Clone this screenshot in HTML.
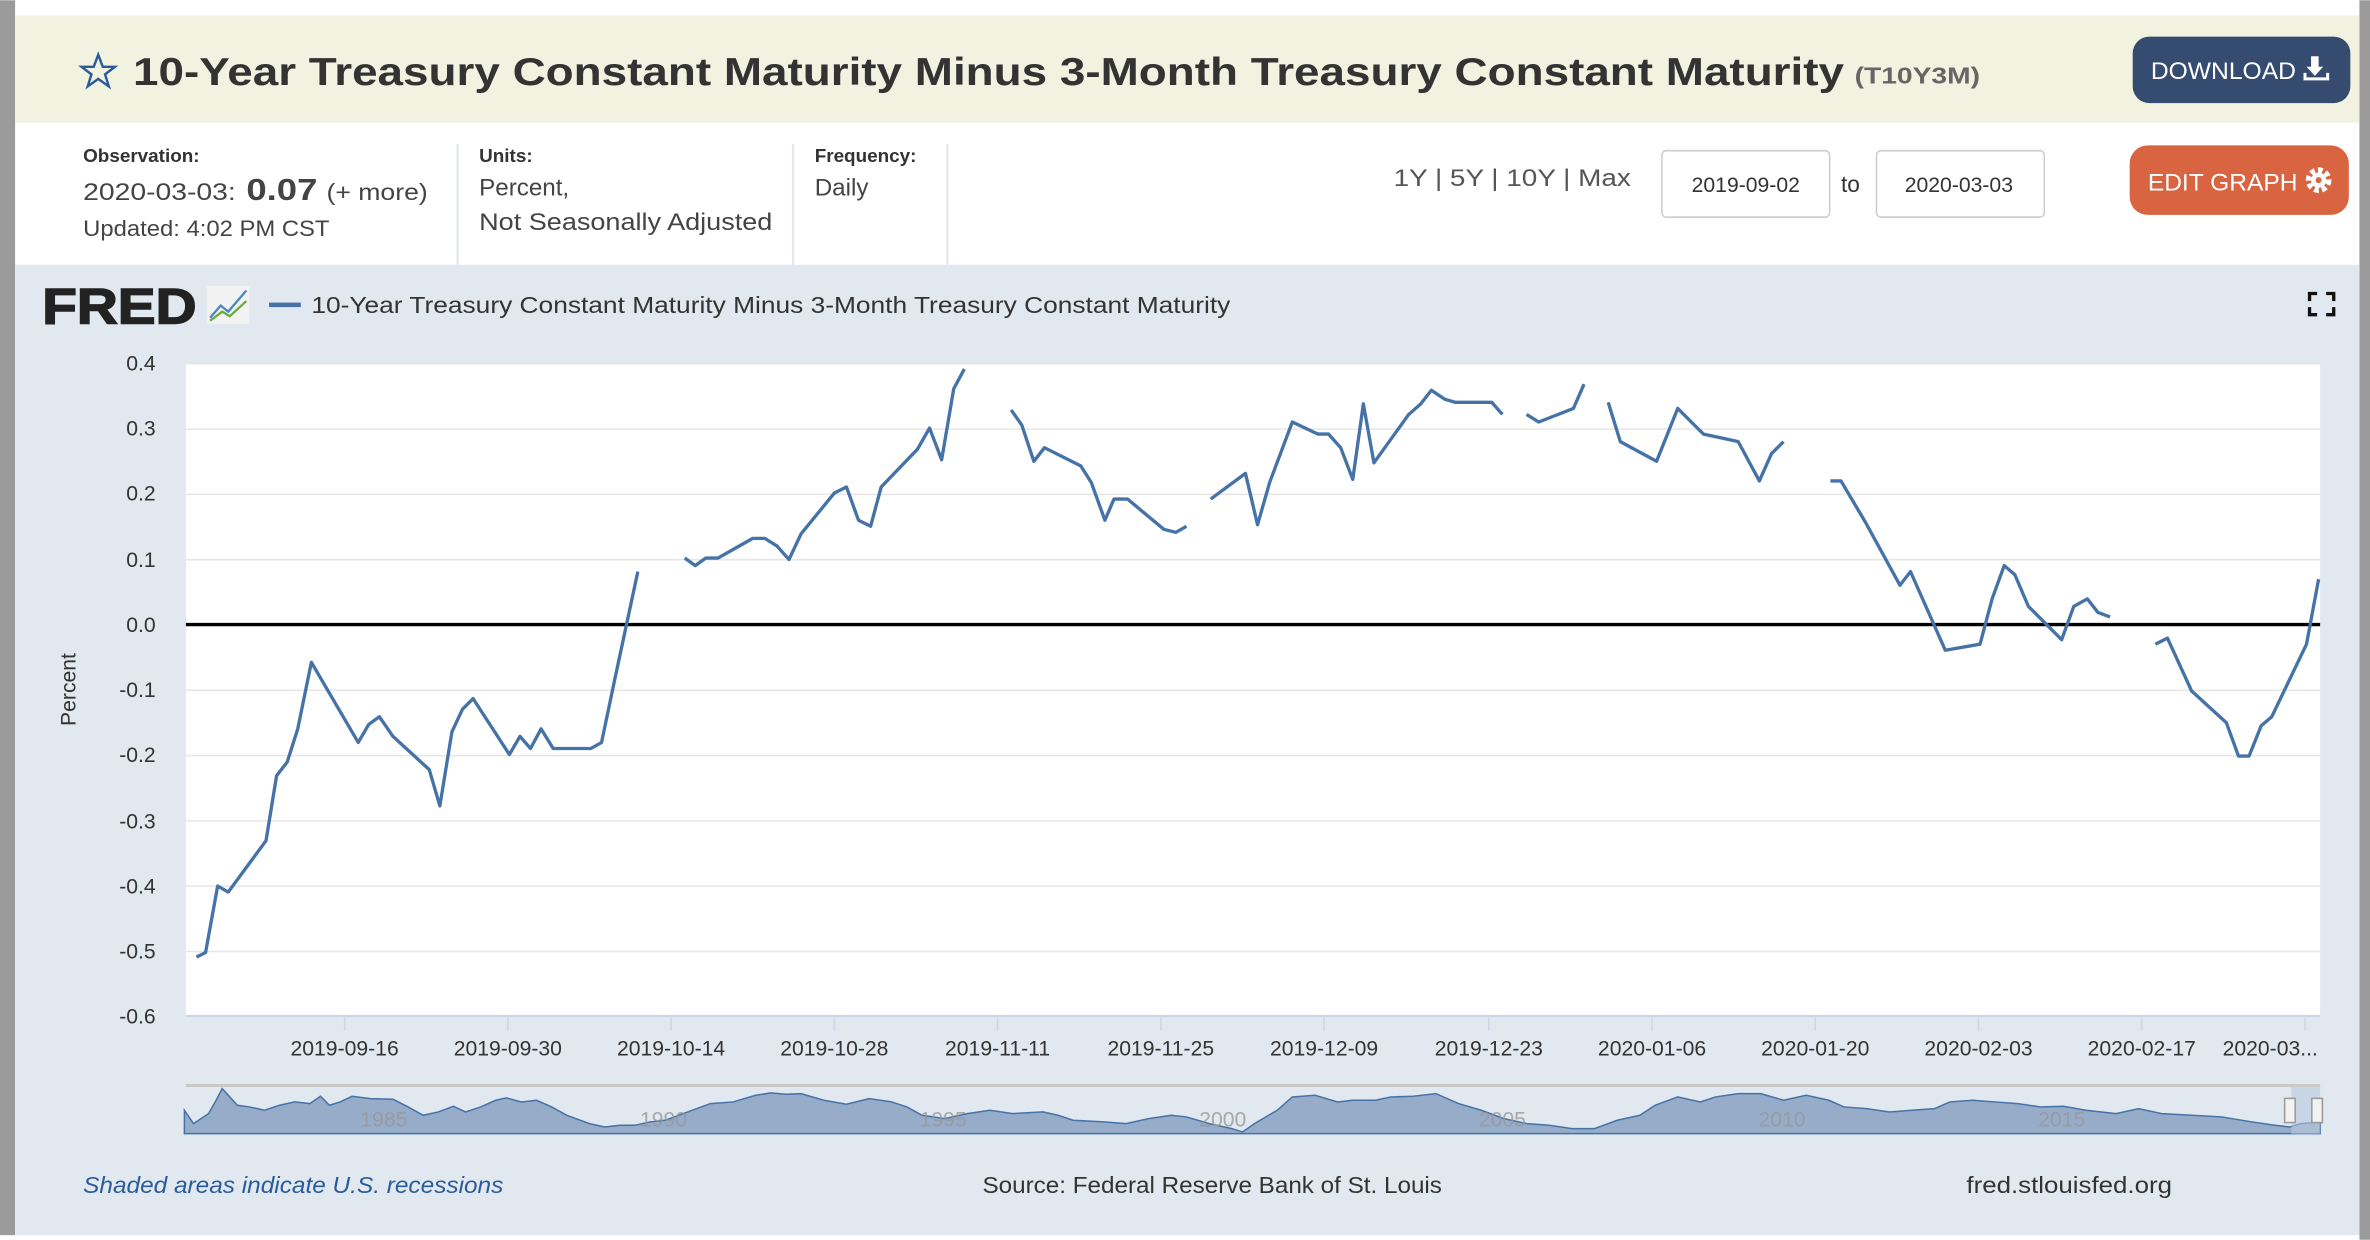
<!DOCTYPE html>
<html><head><meta charset="utf-8"><style>
html,body{margin:0;padding:0;background:#fff;}
svg{display:block;}
text{font-family:"Liberation Sans",sans-serif;}
</style></head><body>
<svg width="2370" height="1240" viewBox="0 0 1568 820" xmlns="http://www.w3.org/2000/svg">
<rect x="0" y="0" width="1568" height="820" fill="#fff"/>
<rect x="0" y="0" width="10" height="817" fill="#9b9b9b"/>
<rect x="1561" y="0" width="7" height="820" fill="#9b9b9b"/>
<!-- header -->
<rect x="10" y="10" width="1551" height="71" fill="#f1f3e0"/>
<polygon points="65,36 68,44 76,44 69.5,49 72,57 65,52 58,57 60.5,49 54,44 62,44" fill="none" stroke="#2a5b9b" stroke-width="1.6"/>
<text x="88" y="56" font-size="26" font-weight="bold" fill="#333" textLength="1132" lengthAdjust="spacingAndGlyphs">10-Year Treasury Constant Maturity Minus 3-Month Treasury Constant Maturity</text>
<text x="1227" y="55" font-size="15" font-weight="bold" fill="#666" textLength="83" lengthAdjust="spacingAndGlyphs">(T10Y3M)</text>
<rect x="1411" y="24" width="144" height="44" rx="11" fill="#354b6f"/>
<text x="1423" y="52" font-size="16" fill="#fff" textLength="96" lengthAdjust="spacingAndGlyphs">DOWNLOAD</text>
<path d="M1529 37 h5 v7 h3 l-5.5 6 -5.5 -6 h3z M1524 48 v5 h17 v-5 h-2 v3 h-13 v-3z" fill="#fff"/>
<!-- info row -->
<text x="55" y="107" font-size="12.5" font-weight="bold" fill="#333">Observation:</text>
<text x="55" y="132" font-size="16" fill="#444" textLength="101" lengthAdjust="spacingAndGlyphs">2020-03-03:</text>
<text x="163" y="132" font-size="20" font-weight="bold" fill="#444" textLength="47" lengthAdjust="spacingAndGlyphs">0.07</text>
<text x="216" y="132" font-size="15" fill="#444" textLength="67" lengthAdjust="spacingAndGlyphs">(+ more)</text>
<text x="55" y="156" font-size="14.5" fill="#444" textLength="163" lengthAdjust="spacingAndGlyphs">Updated: 4:02 PM CST</text>
<rect x="302" y="95" width="1.5" height="80" fill="#e3e8ee"/>
<rect x="524" y="95" width="1.5" height="80" fill="#e3e8ee"/>
<rect x="626" y="95" width="1.5" height="80" fill="#e3e8ee"/>
<text x="317" y="107" font-size="12.5" font-weight="bold" fill="#333">Units:</text>
<text x="317" y="129" font-size="16" fill="#444">Percent,</text>
<text x="317" y="152" font-size="16" fill="#444" textLength="194" lengthAdjust="spacingAndGlyphs">Not Seasonally Adjusted</text>
<text x="539" y="107" font-size="12.5" font-weight="bold" fill="#333">Frequency:</text>
<text x="539" y="129" font-size="16" fill="#444">Daily</text>
<text x="922" y="123" font-size="16" fill="#555" textLength="157" lengthAdjust="spacingAndGlyphs">1Y | 5Y | 10Y | Max</text>
<rect x="1099.5" y="99.5" width="111" height="44" rx="3" fill="#fff" stroke="#ccc"/>
<text x="1155" y="127" font-size="14" fill="#333" text-anchor="middle">2019-09-02</text>
<text x="1218" y="127" font-size="15" fill="#333">to</text>
<rect x="1241.5" y="99.5" width="111" height="44" rx="3" fill="#fff" stroke="#ccc"/>
<text x="1296" y="127" font-size="14" fill="#333" text-anchor="middle">2020-03-03</text>
<rect x="1409" y="96" width="145" height="46" rx="12" fill="#d96442"/>
<text x="1421" y="126" font-size="16" fill="#fff" textLength="99" lengthAdjust="spacingAndGlyphs">EDIT GRAPH</text>
<circle cx="1534" cy="119" r="6.5" fill="none" stroke="#fff" stroke-width="4" stroke-dasharray="3 2"/>
<circle cx="1534" cy="119" r="5" fill="#fff"/><circle cx="1534" cy="119" r="2" fill="#d96442"/>
<!-- chart panel -->
<rect x="10" y="175" width="1551" height="642" fill="#e1e8ef"/>
<text x="28" y="214" font-size="33" font-weight="bold" fill="#222" stroke="#222" stroke-width="1" textLength="102" lengthAdjust="spacingAndGlyphs">FRED</text>
<rect x="137" y="189" width="28" height="25" fill="#f2f2f2"/>
<polyline points="139,210 146,202 151,206 163,192" fill="none" stroke="#4a86c5" stroke-width="1.5"/>
<polyline points="139,212 147,206 152,209 163,199" fill="none" stroke="#6aab3a" stroke-width="1.5"/>
<rect x="178" y="200" width="21" height="3" fill="#4572a7"/>
<text x="206" y="207" font-size="15" fill="#333" textLength="608" lengthAdjust="spacingAndGlyphs">10-Year Treasury Constant Maturity Minus 3-Month Treasury Constant Maturity</text>
<path d="M1528 199 v-5 h5 M1539 194 h5 v5 M1544 203 v5 h-5 M1533 208 h-5 v-5" fill="none" stroke="#111" stroke-width="2.2"/>
<!-- plot -->
<rect x="123" y="240" width="1412" height="432" fill="#fff"/>
<g stroke="#e6e6e6" stroke-width="1">
<line x1="123" x2="1535" y1="240.5" y2="240.5"/><line x1="123" x2="1535" y1="283.7" y2="283.7"/>
<line x1="123" x2="1535" y1="326.9" y2="326.9"/><line x1="123" x2="1535" y1="370.1" y2="370.1"/>
<line x1="123" x2="1535" y1="456.5" y2="456.5"/><line x1="123" x2="1535" y1="499.7" y2="499.7"/>
<line x1="123" x2="1535" y1="542.9" y2="542.9"/><line x1="123" x2="1535" y1="586.1" y2="586.1"/>
<line x1="123" x2="1535" y1="629.3" y2="629.3"/>
</g>
<line x1="123" x2="1535" y1="672" y2="672" stroke="#ccd6eb" stroke-width="1.5"/>
<g stroke="#ccd6eb" stroke-width="1">
<line x1="228" x2="228" y1="672" y2="682"/><line x1="336" x2="336" y1="672" y2="682"/><line x1="444" x2="444" y1="672" y2="682"/><line x1="552" x2="552" y1="672" y2="682"/><line x1="660" x2="660" y1="672" y2="682"/><line x1="768" x2="768" y1="672" y2="682"/><line x1="876" x2="876" y1="672" y2="682"/><line x1="985" x2="985" y1="672" y2="682"/><line x1="1093" x2="1093" y1="672" y2="682"/><line x1="1201" x2="1201" y1="672" y2="682"/><line x1="1309" x2="1309" y1="672" y2="682"/><line x1="1417" x2="1417" y1="672" y2="682"/><line x1="1525" x2="1525" y1="672" y2="682"/>
</g>
<g font-size="14" fill="#333" text-anchor="end">
<text x="103" y="245">0.4</text><text x="103" y="288">0.3</text><text x="103" y="331">0.2</text><text x="103" y="375">0.1</text><text x="103" y="418">0.0</text><text x="103" y="461">-0.1</text><text x="103" y="504">-0.2</text><text x="103" y="548">-0.3</text><text x="103" y="591">-0.4</text><text x="103" y="634">-0.5</text><text x="103" y="677">-0.6</text>
</g>
<text transform="translate(50,456) rotate(-90)" font-size="14" fill="#333" text-anchor="middle">Percent</text>
<g font-size="14" fill="#333" text-anchor="middle">
<text x="228" y="698">2019-09-16</text><text x="336" y="698">2019-09-30</text><text x="444" y="698">2019-10-14</text><text x="552" y="698">2019-10-28</text><text x="660" y="698">2019-11-11</text><text x="768" y="698">2019-11-25</text><text x="876" y="698">2019-12-09</text><text x="985" y="698">2019-12-23</text><text x="1093" y="698">2020-01-06</text><text x="1201" y="698">2020-01-20</text><text x="1309" y="698">2020-02-03</text><text x="1417" y="698">2020-02-17</text><text x="1502" y="698">2020-03...</text>
</g>
<line x1="123" x2="1535" y1="413" y2="413" stroke="#000" stroke-width="2.2"/>
<g fill="none" stroke="#4572a7" stroke-width="2.2" stroke-linejoin="round">
<polyline points="130,633 136,630 144,586 151,590 176,556 183,513 190,504 197,482 206,438 237,491 244,479 251,474 260,487 284,509 291,533 299,484 306,469 313,462 337,499 344,487 351,495 358,482 366,495 391,495 398,491 407,448 422,378"/>
<polyline points="453,369 460,374 467,369 475,369 498,356 506,356 514,361 522,370 530,353 552,326 560,322 568,344 576,348 583,322 607,297 615,283 623,304 631,257 638,244"/>
<polyline points="669,271 676,281 684,305 691,296 715,308 722,319 731,344 737,330 746,330 770,350 778,352 785,348"/>
<polyline points="801,330 824,313 832,347 840,319 855,279 872,287 879,287 887,296 895,317 902,267 909,306 932,274 940,267 947,258 956,264 963,266 987,266 994,274"/>
<polyline points="1010,274 1018,279 1041,270 1048,254"/>
<polyline points="1064,266 1072,292 1096,305 1110,270 1127,287 1141,290 1150,292 1164,318 1172,300 1180,292"/>
<polyline points="1211,318 1218,318 1234,345 1257,387 1264,378 1287,430 1310,426 1318,396 1326,374 1333,380 1342,401 1357,416 1364,423 1372,401 1381,396 1388,405 1396,408"/>
<polyline points="1426,426 1434,422 1450,457 1473,478 1481,500 1488,500 1496,480 1503,474 1526,426 1534,383"/>
</g>
<!-- navigator -->
<rect x="123" y="718" width="1412" height="32" fill="#e1e8ef"/>
<g transform="translate(0,661.6) scale(1,0.2205)">
<path d="M122,400 L122,330 128,370 138,340 143,300 147,265 152,290 157,315 165,320 175,330 185,315 195,305 205,310 212,288 218,315 225,305 233,288 245,295 260,297 270,320 280,345 290,335 300,318 308,335 318,320 328,300 335,293 345,305 355,300 365,320 375,345 390,370 400,380 410,375 420,375 430,365 440,360 455,335 470,310 485,305 500,285 510,278 520,282 530,280 545,300 560,312 575,295 590,305 600,320 610,345 625,355 640,340 655,330 670,340 690,335 700,345 710,360 730,365 745,370 760,355 775,345 785,350 800,370 815,385 822,395 830,370 845,330 855,290 870,285 885,305 895,300 910,300 920,290 935,288 950,280 965,310 980,330 995,355 1010,370 1025,375 1040,385 1055,385 1070,360 1085,345 1095,315 1110,290 1125,305 1135,290 1150,280 1165,280 1180,300 1195,285 1210,300 1220,320 1235,325 1250,335 1265,330 1280,325 1290,305 1305,300 1320,305 1335,310 1350,320 1365,318 1380,330 1400,340 1415,325 1430,340 1450,345 1470,350 1490,365 1505,375 1515,380 1522,370 1535,365 L1535,400 Z" fill="#96acc9" stroke="#4572a7" stroke-width="1.5" vector-effect="non-scaling-stroke"/>
</g>
<rect x="1516" y="718" width="19" height="32" fill="#b8c8de" opacity="0.6"/>
<line x1="123" x2="1535" y1="718" y2="718" stroke="#c8c8c8" stroke-width="2"/>
<g font-size="14" fill="#999" text-anchor="middle" opacity="0.8">
<text x="254" y="745">1985</text><text x="439" y="745">1990</text><text x="624" y="745">1995</text><text x="809" y="745">2000</text><text x="994" y="745">2005</text><text x="1179" y="745">2010</text><text x="1364" y="745">2015</text>
</g>
<rect x="1511.5" y="726.5" width="7" height="16" fill="#f2f2f2" stroke="#999"/>
<rect x="1529.5" y="726.5" width="7" height="16" fill="#f2f2f2" stroke="#999"/>
<!-- footer -->
<text x="55" y="789" font-size="15" font-style="italic" fill="#2a5b9b" textLength="278" lengthAdjust="spacingAndGlyphs">Shaded areas indicate U.S. recessions</text>
<text x="650" y="789" font-size="15" fill="#333" textLength="304" lengthAdjust="spacingAndGlyphs">Source: Federal Reserve Bank of St. Louis</text>
<text x="1301" y="789" font-size="15" fill="#333" textLength="136" lengthAdjust="spacingAndGlyphs">fred.stlouisfed.org</text>
</svg>
</body></html>
